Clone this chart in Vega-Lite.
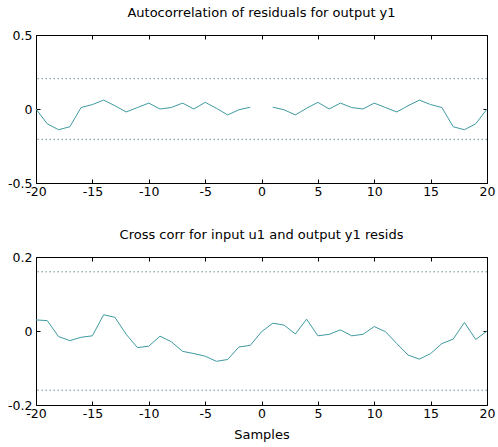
{
  "$schema": "https://vega.github.io/schema/vega-lite/v6.json",
  "background": "white",
  "padding": {"left": 7, "top": 6, "right": 9, "bottom": 4},
  "bounds": "flush",
  "spacing": 74,
  "config": {
    "font": "DejaVu Sans",
    "view": {"stroke": "black", "strokeWidth": 1},
    "axis": {
      "grid": false,
      "domain": false,
      "tickColor": "black",
      "tickSize": 4,
      "offset": -4,
      "labelColor": "black",
      "labelFontSize": 12.5,
      "labelFont": "DejaVu Sans",
      "labelExpr": "'' + datum.value",
      "titleFont": "DejaVu Sans",
      "titleFontSize": 13,
      "titleFontWeight": "normal",
      "titleColor": "black"
    },
    "title": {"font": "DejaVu Sans", "fontSize": 13, "fontWeight": "normal", "color": "black", "anchor": "middle", "offset": 9}
  },
  "datasets": {
    "acf": [
      {"lag": -20, "r": 0.0}, {"lag": -19, "r": -0.1}, {"lag": -18, "r": -0.14}, {"lag": -17, "r": -0.12},
      {"lag": -16, "r": 0.01}, {"lag": -15, "r": 0.03}, {"lag": -14, "r": 0.06}, {"lag": -13, "r": 0.022},
      {"lag": -12, "r": -0.02}, {"lag": -11, "r": 0.01}, {"lag": -10, "r": 0.04}, {"lag": -9, "r": 0.0},
      {"lag": -8, "r": 0.01}, {"lag": -7, "r": 0.04}, {"lag": -6, "r": 0.0}, {"lag": -5, "r": 0.045},
      {"lag": -4, "r": 0.005}, {"lag": -3, "r": -0.04}, {"lag": -2, "r": -0.005}, {"lag": -1, "r": 0.012},
      {"lag": 0, "r": null},
      {"lag": 1, "r": 0.012}, {"lag": 2, "r": -0.005}, {"lag": 3, "r": -0.04}, {"lag": 4, "r": 0.005},
      {"lag": 5, "r": 0.045}, {"lag": 6, "r": 0.0}, {"lag": 7, "r": 0.04}, {"lag": 8, "r": 0.01},
      {"lag": 9, "r": 0.0}, {"lag": 10, "r": 0.04}, {"lag": 11, "r": 0.01}, {"lag": 12, "r": -0.02},
      {"lag": 13, "r": 0.022}, {"lag": 14, "r": 0.06}, {"lag": 15, "r": 0.03}, {"lag": 16, "r": 0.01},
      {"lag": 17, "r": -0.12}, {"lag": 18, "r": -0.14}, {"lag": 19, "r": -0.1}, {"lag": 20, "r": 0.0}
    ],
    "acfconf": [{"b": 0.205}, {"b": -0.205}],
    "ccf": [
      {"lag": -20, "r": 0.03}, {"lag": -19, "r": 0.028}, {"lag": -18, "r": -0.015}, {"lag": -17, "r": -0.026},
      {"lag": -16, "r": -0.017}, {"lag": -15, "r": -0.013}, {"lag": -14, "r": 0.044}, {"lag": -13, "r": 0.037},
      {"lag": -12, "r": -0.009}, {"lag": -11, "r": -0.045}, {"lag": -10, "r": -0.041}, {"lag": -9, "r": -0.014},
      {"lag": -8, "r": -0.029}, {"lag": -7, "r": -0.055}, {"lag": -6, "r": -0.061}, {"lag": -5, "r": -0.068},
      {"lag": -4, "r": -0.082}, {"lag": -3, "r": -0.077}, {"lag": -2, "r": -0.043}, {"lag": -1, "r": -0.039},
      {"lag": 0, "r": -0.002},
      {"lag": 1, "r": 0.021}, {"lag": 2, "r": 0.016}, {"lag": 3, "r": -0.008}, {"lag": 4, "r": 0.032},
      {"lag": 5, "r": -0.013}, {"lag": 6, "r": -0.009}, {"lag": 7, "r": 0.003}, {"lag": 8, "r": -0.013},
      {"lag": 9, "r": -0.009}, {"lag": 10, "r": 0.012}, {"lag": 11, "r": -0.002}, {"lag": 12, "r": -0.034},
      {"lag": 13, "r": -0.065}, {"lag": 14, "r": -0.076}, {"lag": 15, "r": -0.061}, {"lag": 16, "r": -0.034},
      {"lag": 17, "r": -0.022}, {"lag": 18, "r": 0.023}, {"lag": 19, "r": -0.023}, {"lag": 20, "r": 0.0}
    ],
    "ccfconf": [{"b": 0.16}, {"b": -0.16}]
  },
  "vconcat": [
    {
      "title": {"text": "Autocorrelation of residuals for output y1"},
      "width": 451,
      "height": 148,
      "resolve": {"axis": {"x": "independent", "y": "independent"}},
      "layer": [
        {
          "data": {"name": "acfconf"},
          "mark": {"type": "rule", "color": "#6f939c", "strokeDash": [1.5, 2.5], "strokeWidth": 1},
          "encoding": {
            "y": {"field": "b", "type": "quantitative", "scale": {"domain": [-0.5, 0.5], "nice": false},
                  "axis": {"orient": "left", "values": [-0.5, 0, 0.5], "title": null, "labelPadding": 4}}
          }
        },
        {
          "data": {"name": "acf"},
          "mark": {"type": "line", "color": "#3f9aa0", "strokeWidth": 1, "invalid": "break-paths-show-domains"},
          "encoding": {
            "x": {"field": "lag", "type": "quantitative", "scale": {"domain": [-20, 20], "nice": false},
                  "axis": {"orient": "bottom", "values": [-20, -15, -10, -5, 0, 5, 10, 15, 20], "title": null, "labelFlush": false, "labelPadding": 2}},
            "y": {"field": "r", "type": "quantitative", "scale": {"domain": [-0.5, 0.5], "nice": false},
                  "axis": {"orient": "right", "values": [-0.5, 0, 0.5], "labels": false, "title": null}}
          }
        },
        {
          "data": {"name": "acf"},
          "mark": {"type": "point", "opacity": 0},
          "encoding": {
            "x": {"field": "lag", "type": "quantitative", "scale": {"domain": [-20, 20], "nice": false},
                  "axis": {"orient": "top", "values": [-20, -15, -10, -5, 0, 5, 10, 15, 20], "labels": false, "title": null}}
          }
        }
      ]
    },
    {
      "title": {"text": "Cross corr for input u1 and output y1 resids"},
      "width": 451,
      "height": 148,
      "resolve": {"axis": {"x": "independent", "y": "independent"}},
      "layer": [
        {
          "data": {"name": "ccfconf"},
          "mark": {"type": "rule", "color": "#6f939c", "strokeDash": [1.5, 2.5], "strokeWidth": 1},
          "encoding": {
            "y": {"field": "b", "type": "quantitative", "scale": {"domain": [-0.2, 0.2], "nice": false},
                  "axis": {"orient": "left", "values": [-0.2, 0, 0.2], "title": null, "labelPadding": 4}}
          }
        },
        {
          "data": {"name": "ccf"},
          "mark": {"type": "line", "color": "#3f9aa0", "strokeWidth": 1},
          "encoding": {
            "x": {"field": "lag", "type": "quantitative", "scale": {"domain": [-20, 20], "nice": false},
                  "axis": {"orient": "bottom", "values": [-20, -15, -10, -5, 0, 5, 10, 15, 20], "title": "Samples", "labelFlush": false, "labelPadding": 2, "titlePadding": 9}},
            "y": {"field": "r", "type": "quantitative", "scale": {"domain": [-0.2, 0.2], "nice": false},
                  "axis": {"orient": "right", "values": [-0.2, 0, 0.2], "labels": false, "title": null}}
          }
        },
        {
          "data": {"name": "ccf"},
          "mark": {"type": "point", "opacity": 0},
          "encoding": {
            "x": {"field": "lag", "type": "quantitative", "scale": {"domain": [-20, 20], "nice": false},
                  "axis": {"orient": "top", "values": [-20, -15, -10, -5, 0, 5, 10, 15, 20], "labels": false, "title": null}}
          }
        }
      ]
    }
  ]
}
